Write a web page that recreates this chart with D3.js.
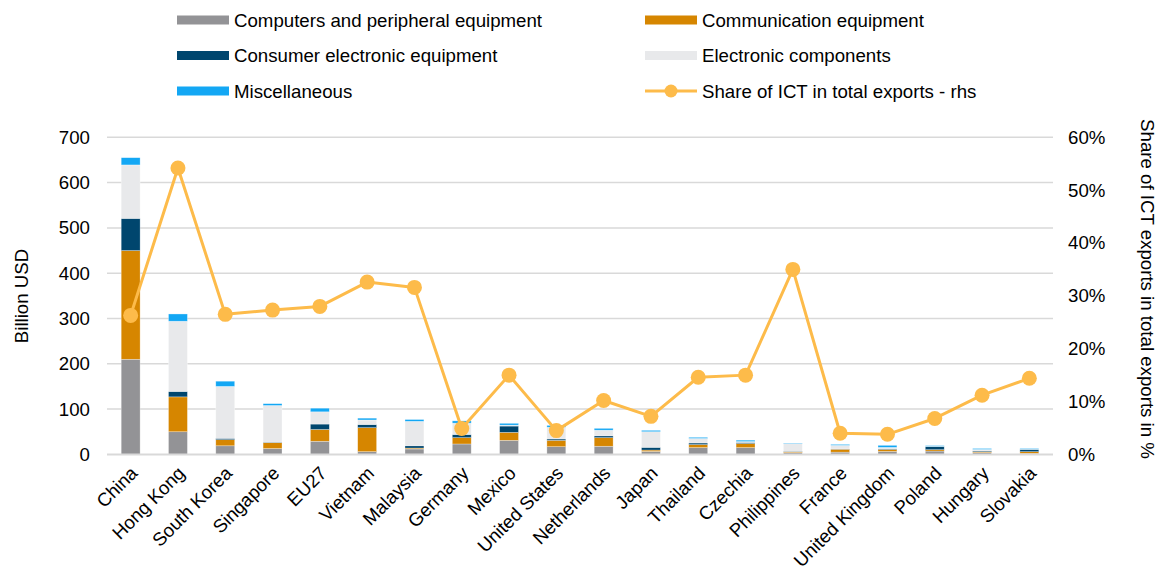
<!DOCTYPE html>
<html><head><meta charset="utf-8">
<script src="https://cdn.jsdelivr.net/npm/d3@7"></script>
<style>body{margin:0;background:#fff;}svg{display:block;font-family:"Liberation Sans",Arial,sans-serif;}</style>
</head><body><svg id="c" width="1166" height="571"></svg>
<script>
const countries = ["China","Hong Kong","South Korea","Singapore","EU27","Vietnam","Malaysia","Germany","Mexico","United States","Netherlands","Japan","Thailand","Czechia","Philippines","France","United Kingdom","Poland","Hungary","Slovakia"];
const computers     = [210, 50, 19, 13, 29, 6, 12, 23, 31, 17, 18, 6.6, 15, 15, 4, 5, 6.6, 7.4, 4, 2];
const communication = [240, 77, 13.5, 13, 26, 53, 2, 14, 17.6, 14, 19, 3, 6.7, 9, 2, 6.5, 4.4, 3, 2, 4];
const consumer      = [71, 12, 3, 1, 12, 7, 5, 7, 14, 3, 4, 6, 3.5, 2.4, 1, 0.5, 1.5, 7, 2, 5];
const components    = [118, 155, 114.6, 81, 27, 10, 54, 25, 2, 26, 12.5, 34.5, 10, 2, 17, 8, 3, 0.5, 3, 0.5];
const misc          = [16, 16, 11.5, 4, 8, 4, 4, 5, 4, 4, 4, 3, 2.5, 3, 1, 2, 4.5, 1.5, 2, 1.5];
const shareICT      = [26.3, 54.2, 26.5, 27.3, 28, 32.6, 31.6, 4.9, 15, 4.5, 10.2, 7.2, 14.6, 15, 35, 4, 3.8, 6.8, 11.2, 14.4];
const leftTicks  = [0,100,200,300,400,500,600,700];
const rightTicks = [0,10,20,30,40,50,60];
const seriesNames = ["Computers and peripheral equipment","Communication equipment","Consumer electronic equipment","Electronic components","Miscellaneous"];
const seriesKeys = ["computers","communication","consumer","components","misc"];
const seriesColors = ["#939396","#d68600","#00466e","#e8e9eb","#13a7f4"];
const lineName = "Share of ICT in total exports - rhs";
const lineColor = "#fdbb4a";

const FS = 18.67;
const rows = countries.map((c,i)=>({country:c, computers:computers[i], communication:communication[i], consumer:consumer[i], components:components[i], misc:misc[i]}));
const svg = d3.select("#c");
const L=107, R=1053, T=137.3, B=454.4;
const x = d3.scaleBand().domain(countries).range([L,R]).paddingInner(0.6).paddingOuter(0.3);
const y = d3.scaleLinear().domain([0,700]).range([B,T]);
const y2 = d3.scaleLinear().domain([0,60]).range([B,T]);

// grid
svg.append("g").selectAll("line").data(leftTicks.slice(1)).join("line")
  .attr("x1",L).attr("x2",R).attr("y1",d=>y(d)).attr("y2",d=>y(d))
  .attr("stroke","#d9d9d9").attr("stroke-width",1.5);

// left axis
const ga = svg.append("g").attr("transform",`translate(${L},0)`)
  .call(d3.axisLeft(y).tickValues(leftTicks).tickSize(0).tickPadding(17));
ga.select(".domain").remove();
ga.selectAll("text").attr("font-size",FS).attr("fill","#000").attr("font-family","Liberation Sans, Arial, sans-serif");

const gr = svg.append("g").attr("transform",`translate(${R},0)`)
  .call(d3.axisRight(y2).tickValues(rightTicks).tickSize(0).tickPadding(15).tickFormat(d=>d+"%"));
gr.select(".domain").remove();
gr.selectAll("text").attr("font-size",FS).attr("fill","#000").attr("font-family","Liberation Sans, Arial, sans-serif");

// bars
const stack = d3.stack().keys(seriesKeys)(rows);
svg.append("g").selectAll("g").data(stack).join("g")
  .attr("fill",(d,i)=>seriesColors[i])
  .selectAll("rect").data(d=>d).join("rect")
  .attr("x",d=>x(d.data.country)).attr("width",x.bandwidth())
  .attr("y",d=>y(d[1])).attr("height",d=>Math.max(0,y(d[0])-y(d[1])))
  .attr("stroke","#ffffff").attr("stroke-opacity",0.5).attr("stroke-width",0.6);

// baseline
svg.append("line").attr("x1",L).attr("x2",R).attr("y1",B).attr("y2",B).attr("stroke","#d9d9d9").attr("stroke-width",2);

// x labels
const gx = svg.append("g").attr("transform",`translate(0,${B})`)
  .call(d3.axisBottom(x).tickSize(0).tickPadding(0));
gx.select(".domain").remove();
gx.selectAll("text").attr("font-size",FS).attr("fill","#000").attr("font-family","Liberation Sans, Arial, sans-serif")
  .attr("text-anchor","end").attr("dy",0)
  .attr("transform","translate(8,20) rotate(-45)");

// line
const cx = c=>x(c)+x.bandwidth()/2;
svg.append("path").datum(shareICT).attr("fill","none").attr("stroke",lineColor).attr("stroke-width",3)
  .attr("stroke-linejoin","round")
  .attr("d",d3.line().x((d,i)=>cx(countries[i])).y(d=>y2(d)));
svg.append("g").selectAll("circle").data(shareICT).join("circle")
  .attr("cx",(d,i)=>cx(countries[i])).attr("cy",d=>y2(d)).attr("r",7.5).attr("fill",lineColor);

// axis titles
svg.append("text").attr("transform",`translate(28,296) rotate(-90)`).attr("text-anchor","middle")
  .attr("font-size",FS).text("Billion USD");
svg.append("text").attr("transform",`translate(1141,289) rotate(90)`).attr("text-anchor","middle")
  .attr("font-size",FS).text("Share of ICT exports in total exports in %");

// legend
const legItems = [
  {name:seriesNames[0], color:seriesColors[0], col:0, row:0},
  {name:seriesNames[1], color:seriesColors[1], col:1, row:0},
  {name:seriesNames[2], color:seriesColors[2], col:0, row:1},
  {name:seriesNames[3], color:seriesColors[3], col:1, row:1},
  {name:seriesNames[4], color:seriesColors[4], col:0, row:2},
  {name:lineName, color:lineColor, col:1, row:2, line:true}
];
const colX=[177,645], rowY=[20,55.5,91];
const lg = svg.append("g").selectAll("g").data(legItems).join("g")
  .attr("transform",d=>`translate(${colX[d.col]},${rowY[d.row]})`);
lg.filter(d=>!d.line).append("rect").attr("x",0).attr("y",-4.5).attr("width",52).attr("height",9).attr("fill",d=>d.color);
const ll = lg.filter(d=>d.line);
ll.append("line").attr("x1",0).attr("x2",52).attr("y1",0).attr("y2",0).attr("stroke",lineColor).attr("stroke-width",3);
ll.append("circle").attr("cx",26).attr("cy",0).attr("r",6.5).attr("fill",lineColor);
lg.append("text").attr("x",57).attr("y",0).attr("dy","0.35em").attr("font-size",FS).text(d=>d.name);
</script></body></html>
